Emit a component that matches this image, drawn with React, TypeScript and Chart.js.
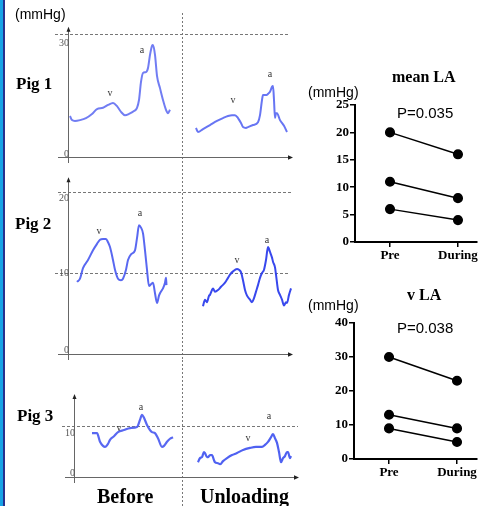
import React, { useEffect, useRef } from "react";
import { Chart, registerables } from "chart.js";
Chart.register(...registerables);

const SERIF = '"Liberation Serif", "Times New Roman", serif';
const SANS = '"Liberation Sans", Arial, sans-serif';

// ---------- Pressure traces (time in ms along sweep, pressure in mmHg) ----------
const pig1BeforeTime = [8, 16, 28, 48, 72, 96, 116, 140, 160, 180, 196, 212, 228, 244, 264, 276, 284, 292, 300, 312, 320, 328, 336, 340, 348, 356, 368, 380, 392, 400, 408];
const pig1BeforeP = [10.0, 9.0, 8.8, 9.0, 9.5, 10.5, 11.7, 12.0, 12.7, 13.2, 12.4, 11.0, 10.2, 10.5, 11.2, 12.0, 13.9, 18.3, 20.5, 20.7, 21.7, 24.9, 27.1, 27.3, 24.9, 19.8, 16.8, 13.9, 11.5, 10.7, 11.5];
const pig1UnloadTime = [512, 520, 540, 568, 596, 620, 640, 656, 668, 680, 692, 700, 712, 720, 740, 760, 768, 776, 780, 792, 800, 808, 816, 820, 824, 828, 832, 836, 848, 864, 876];
const pig1UnloadP = [7.1, 6.1, 6.8, 7.8, 8.8, 9.5, 10.0, 10.2, 10.2, 9.5, 8.3, 7.3, 7.1, 7.3, 7.8, 8.5, 10.2, 13.9, 15.1, 15.1, 15.4, 15.9, 17.1, 17.3, 13.9, 9.5, 10.7, 10.7, 9.0, 7.6, 6.1];

const pig2BeforeTime = [36, 48, 60, 80, 100, 116, 128, 140, 152, 160, 168, 180, 188, 200, 212, 220, 232, 240, 252, 268, 276, 284, 292, 300, 308, 316, 324, 332, 340, 348, 356, 364, 368, 376, 380, 388, 392, 394];
const pig2BeforeP = [8.9, 9.3, 10.6, 11.6, 12.8, 13.6, 14.1, 14.2, 14.2, 13.8, 13.2, 11.6, 10.4, 9.3, 9.1, 9.3, 10.4, 11.6, 12.3, 12.8, 14.3, 15.9, 15.6, 14.9, 12.8, 10.4, 8.4, 8.6, 8.8, 7.5, 6.3, 7.2, 7.5, 7.9, 8.1, 8.8, 9.4, 8.5];
const pig2UnloadTime = [540, 548, 556, 564, 568, 576, 580, 588, 600, 612, 628, 640, 648, 660, 676, 684, 692, 700, 708, 716, 728, 736, 744, 752, 760, 768, 776, 784, 792, 800, 808, 816, 820, 828, 832, 840, 848, 856, 864, 872, 876, 884, 892];
const pig2UnloadP = [5.9, 6.7, 6.4, 7.2, 7.3, 7.9, 8.1, 7.7, 7.9, 8.3, 8.8, 9.4, 9.8, 10.2, 10.5, 10.4, 10.1, 9.1, 7.9, 7.2, 6.7, 6.4, 6.9, 7.7, 8.5, 9.4, 10.0, 10.4, 11.6, 13.2, 12.6, 11.9, 11.4, 10.7, 9.8, 7.9, 7.3, 6.7, 6.0, 6.4, 6.3, 7.3, 8.1];

const pig3BeforeTime = [72, 92, 104, 116, 124, 136, 144, 160, 176, 200, 224, 252, 264, 272, 280, 292, 304, 312, 324, 336, 352, 360, 372, 384, 396];
const pig3BeforeP = [8.6, 8.6, 6.9, 6.1, 5.9, 6.5, 7.3, 8.0, 8.8, 9.2, 9.6, 9.8, 11.2, 12.2, 11.6, 10.2, 9.2, 8.8, 8.6, 7.6, 5.9, 6.1, 6.9, 7.5, 7.8];
const pig3UnloadTime = [496, 504, 512, 520, 524, 532, 536, 544, 552, 560, 564, 576, 584, 596, 612, 632, 652, 676, 704, 728, 752, 764, 776, 788, 796, 804, 812, 820, 828, 836, 844, 852, 856, 864, 868];
const pig3UnloadP = [2.9, 3.7, 3.9, 4.9, 4.7, 3.9, 3.9, 4.3, 4.3, 3.3, 2.9, 2.7, 2.5, 3.1, 3.7, 4.3, 4.7, 5.3, 5.7, 5.9, 5.9, 6.3, 6.9, 7.8, 8.4, 7.6, 6.7, 4.9, 2.9, 3.7, 4.1, 4.9, 4.9, 3.7, 4.1];

// wave labels (v, a) for before / unloading
const waveLabelText = ["v", "a", "v", "a"];
const pig1WaveLabelTime = [168, 296, 660, 808];
const pig1WaveLabelP = [15.6, 26.1, 13.7, 20.2];
const pig2WaveLabelTime = [124, 288, 676, 796];
const pig2WaveLabelP = [15.2, 17.3, 11.6, 14.0];
const pig3WaveLabelTime = [180, 268, 696, 780];
const pig3WaveLabelP = [9.6, 13.7, 7.5, 11.8];

// axis tick values for the traces
const pig1Ticks = [0, 30];
const pig2Ticks = [0, 10, 20];
const pig3Ticks = [0, 10];

// ---------- Summary data ----------
const groups = ["Pre", "During"];
const meanLAPre = [20, 11, 6];
const meanLADuring = [16, 8, 4];
const vLAPre = [30, 13, 9];
const vLADuring = [23, 9, 5];

type PigSpec = {
  beforeT: number[]; beforeP: number[]; unloadT: number[]; unloadP: number[];
  labelT: number[]; labelP: number[]; ticks: number[]; tickDy: number[];
  yMax: number; axisTop: number; sepTime: number; sepTop: number; xLead: number;
  refLines: { value: number; from: number; to: number }[];
  padding: { left: number; right: number; top: number; bottom: number };
  color: string; color2: string; width: number;
};

function pigPlugin(p: PigSpec) {
  return {
    id: "pigAxes",
    beforeDatasetsDraw(chart: any) {
      const { ctx, chartArea: a, scales } = chart;
      const x = scales.x, y = scales.y;
      ctx.save();
      ctx.strokeStyle = "#777";
      ctx.lineWidth = 1;
      ctx.setLineDash([3, 2]);
      p.refLines.forEach((r) => {
        const py = Math.round(y.getPixelForValue(r.value)) + 0.5;
        ctx.beginPath();
        ctx.moveTo(a.left + r.from, py);
        ctx.lineTo(a.left + r.to, py);
        ctx.stroke();
      });
      ctx.setLineDash([2, 2]);
      const sx = Math.round(x.getPixelForValue(p.sepTime)) + 0.5;
      ctx.beginPath();
      ctx.moveTo(sx, p.sepTop);
      ctx.lineTo(sx, chart.height);
      ctx.stroke();
      ctx.setLineDash([]);
      // axes
      ctx.strokeStyle = "#666";
      const ax = Math.round(a.left) + 0.5;
      const ay = Math.round(a.bottom) + 0.5;
      const yTop = y.getPixelForValue(p.axisTop);
      ctx.beginPath();
      ctx.moveTo(ax, a.bottom + 6);
      ctx.lineTo(ax, yTop + 2);
      ctx.stroke();
      ctx.beginPath();
      ctx.moveTo(a.left - p.xLead, ay);
      ctx.lineTo(a.right - 2, ay);
      ctx.stroke();
      ctx.fillStyle = "#222";
      ctx.beginPath();
      ctx.moveTo(ax, yTop - 1);
      ctx.lineTo(ax - 2, yTop + 4);
      ctx.lineTo(ax + 2, yTop + 4);
      ctx.closePath();
      ctx.fill();
      ctx.beginPath();
      ctx.moveTo(a.right + 1, ay);
      ctx.lineTo(a.right - 4, ay - 2.2);
      ctx.lineTo(a.right - 4, ay + 2.2);
      ctx.closePath();
      ctx.fill();
      // tick labels
      ctx.font = `10px ${SERIF}`;
      ctx.fillStyle = "#555";
      ctx.textAlign = "right";
      ctx.textBaseline = "middle";
      p.ticks.forEach((t, i) => {
        ctx.fillText(String(t), a.left + 1, y.getPixelForValue(t) + p.tickDy[i]);
      });
      ctx.restore();
    },
    afterDatasetsDraw(chart: any) {
      const { ctx, scales } = chart;
      ctx.save();
      ctx.font = `10px ${SERIF}`;
      ctx.fillStyle = "#333";
      ctx.textAlign = "center";
      ctx.textBaseline = "middle";
      p.labelT.forEach((t, i) => {
        ctx.fillText(waveLabelText[i], scales.x.getPixelForValue(t), scales.y.getPixelForValue(p.labelP[i]));
      });
      ctx.restore();
    },
  };
}

function pigConfig(p: PigSpec): any {
  const mk = (ts: number[], ps: number[]) => ts.map((t, i) => ({ x: t, y: ps[i] }));
  return {
    type: "line",
    data: {
      datasets: [
        { data: mk(p.beforeT, p.beforeP), borderColor: p.color, borderWidth: p.width, pointRadius: 0, cubicInterpolationMode: "monotone", fill: false, clip: false },
        { data: mk(p.unloadT, p.unloadP), borderColor: p.color2, borderWidth: p.width, pointRadius: 0, cubicInterpolationMode: "monotone", fill: false, clip: false },
      ],
    },
    options: {
      responsive: false,
      animation: false,
      events: [],
      layout: { padding: p.padding, autoPadding: false },
      scales: {
        x: { type: "linear", display: false, min: 0, max: 896 },
        y: { type: "linear", display: false, min: 0, max: p.yMax },
      },
      plugins: { legend: { display: false }, tooltip: { enabled: false }, title: { display: false } },
    },
    plugins: [pigPlugin(p)],
  };
}

function summaryConfig(pre: number[], during: number[], yMax: number, step: number, xMin: number, xMax: number, yWidth: number, padTop: number, xHeight: number): any {
  const axisGrid = { display: true, drawOnChartArea: false, drawTicks: true, tickLength: 5, color: "#000", lineWidth: 1.5 };
  const tickFont = { family: SERIF, size: 13, weight: "bold" as const };
  return {
    type: "line",
    data: {
      datasets: pre.map((v, i) => ({
        data: [{ x: 0, y: v }, { x: 1, y: during[i] }],
        borderColor: "#000",
        borderWidth: 1.5,
        pointRadius: 4.3,
        pointBackgroundColor: "#000",
        pointBorderColor: "#000",
        fill: false,
        clip: false,
      })),
    },
    options: {
      responsive: false,
      animation: false,
      events: [],
      layout: { padding: { top: padTop, right: 1, left: 0, bottom: 0 }, autoPadding: false },
      scales: {
        x: {
          type: "linear",
          min: xMin,
          max: xMax,
          afterBuildTicks: (s: any) => { s.ticks = [{ value: 0 }, { value: 1 }]; },
          afterFit: (s: any) => { s.height = xHeight; s.paddingLeft = 0; s.paddingRight = 0; },
          ticks: { callback: (v: any) => groups[v] ?? "", font: tickFont, color: "#000", padding: 1, maxRotation: 0, autoSkip: false },
          grid: axisGrid,
          border: { display: true, color: "#000", width: 2 },
        },
        y: {
          type: "linear",
          min: 0,
          max: yMax,
          afterFit: (s: any) => { s.width = yWidth; s.paddingTop = 0; s.paddingBottom = 0; },
          ticks: { stepSize: step, font: tickFont, color: "#000", padding: 1 },
          grid: axisGrid,
          border: { display: true, color: "#000", width: 2 },
        },
      },
      plugins: { legend: { display: false }, tooltip: { enabled: false }, title: { display: false } },
    },
  };
}

function ChartBox({ left, top, width, height, make }: { left: number; top: number; width: number; height: number; make: () => any }) {
  const ref = useRef<HTMLCanvasElement>(null);
  useEffect(() => {
    const chart = new Chart(ref.current as HTMLCanvasElement, make());
    return () => chart.destroy();
  }, []);
  return (
    <canvas ref={ref} width={width} height={height} style={{ position: "absolute", left, top, width, height, display: "block" }} />
  );
}

function Txt({ x, y, size, bold, family, children }: { x: number; y: number; size: number; bold?: boolean; family: string; children: React.ReactNode }) {
  return (
    <div style={{ position: "absolute", left: x, top: y, transform: "translateY(-50%)", fontFamily: family, fontSize: size, fontWeight: bold ? "bold" : "normal", lineHeight: 1, whiteSpace: "nowrap", color: "#000" }}>
      {children}
    </div>
  );
}

const pig1: PigSpec = {
  beforeT: pig1BeforeTime, beforeP: pig1BeforeP, unloadT: pig1UnloadTime, unloadP: pig1UnloadP,
  labelT: pig1WaveLabelTime, labelP: pig1WaveLabelP, ticks: pig1Ticks, tickDy: [-3, 9],
  yMax: 30, axisTop: 31.5, sepTime: 456, sepTop: 13, xLead: 10,
  refLines: [{ value: 30, from: -13, to: 222 }],
  padding: { left: 68, right: 8, top: 34, bottom: 8 },
  color: "rgba(105,118,242,0.95)", color2: "rgba(95,110,242,0.95)", width: 2,
};
const pig2: PigSpec = {
  beforeT: pig2BeforeTime, beforeP: pig2BeforeP, unloadT: pig2UnloadTime, unloadP: pig2UnloadP,
  labelT: pig2WaveLabelTime, labelP: pig2WaveLabelP, ticks: pig2Ticks, tickDy: [-4, 0, 6],
  yMax: 20, axisTop: 21.7, sepTime: 456, sepTop: 0, xLead: 10,
  refLines: [{ value: 20, from: -10, to: 225 }, { value: 10, from: -13, to: 222 }],
  padding: { left: 68, right: 8, top: 27, bottom: 6 },
  color: "rgba(80,96,240,0.95)", color2: "rgba(45,62,236,0.95)", width: 2,
};
const pig3: PigSpec = {
  beforeT: pig3BeforeTime, beforeP: pig3BeforeP, unloadT: pig3UnloadTime, unloadP: pig3UnloadP,
  labelT: pig3WaveLabelTime, labelP: pig3WaveLabelP, ticks: pig3Ticks, tickDy: [-4, 7],
  yMax: 10, axisTop: 16.1, sepTime: 432, sepTop: 0, xLead: 9,
  refLines: [{ value: 10, from: -12, to: 224 }],
  padding: { left: 74, right: 2, top: 66, bottom: 29 },
  color: "rgba(80,96,240,0.95)", color2: "rgba(70,88,240,0.95)", width: 2.2,
};

export default function App() {
  return (
    <div style={{ position: "absolute", left: 0, top: 0, width: 478, height: 506, overflow: "hidden", background: "#fff" }}>
      <div style={{ position: "absolute", left: 0, top: 0, width: 3, height: 506, background: "#17a3e6" }} />
      <div style={{ position: "absolute", left: 3, top: 0, width: 2, height: 506, background: "#27308f" }} />

      <ChartBox left={0} top={0} width={300} height={165} make={() => pigConfig(pig1)} />
      <ChartBox left={0} top={165} width={300} height={195} make={() => pigConfig(pig2)} />
      <ChartBox left={0} top={360} width={300} height={146} make={() => pigConfig(pig3)} />

      <ChartBox left={300} top={60} width={178} height={205} make={() => summaryConfig(meanLAPre, meanLADuring, 25, 5, -0.515, 1.28, 55, 45, 23)} />
      <ChartBox left={300} top={270} width={178} height={212} make={() => summaryConfig(vLAPre, vLADuring, 40, 10, -0.515, 1.294, 54, 53, 23)} />

      <Txt x={15} y={14} size={14} family={SANS}>(mmHg)</Txt>
      <Txt x={16} y={83} size={17} bold family={SERIF}>Pig 1</Txt>
      <Txt x={15} y={223} size={17} bold family={SERIF}>Pig 2</Txt>
      <Txt x={17} y={415} size={17} bold family={SERIF}>Pig 3</Txt>
      <Txt x={97} y={495.5} size={20} bold family={SERIF}>Before</Txt>
      <Txt x={200} y={495.5} size={20} bold family={SERIF}>Unloading</Txt>

      <Txt x={392} y={77} size={16} bold family={SERIF}>mean LA</Txt>
      <Txt x={308} y={92} size={14} family={SANS}>(mmHg)</Txt>
      <Txt x={397} y={112} size={15} family={SANS}>P=0.035</Txt>

      <Txt x={407} y={295} size={16} bold family={SERIF}>v LA</Txt>
      <Txt x={308} y={305} size={14} family={SANS}>(mmHg)</Txt>
      <Txt x={397} y={327} size={15} family={SANS}>P=0.038</Txt>
    </div>
  );
}
